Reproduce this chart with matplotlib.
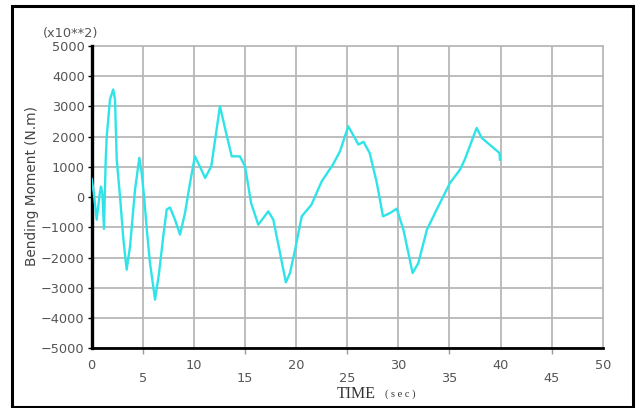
import matplotlib
matplotlib.use("Agg")
import matplotlib.pyplot as plt
from matplotlib.patches import Rectangle
from matplotlib.ticker import FixedLocator, FixedFormatter

# Bending moment time history (values in units of 10^2 N.m)
time_s = [0, 0.2, 0.49, 0.8, 0.91, 1.05, 1.2, 1.37, 1.47, 1.79, 2.1, 2.28,
          2.45, 2.77, 3.1, 3.42, 3.75, 4.24, 4.66, 4.89, 5.15, 5.4, 5.7, 6.2,
          6.59, 7.0, 7.34, 7.66, 8.15, 8.64, 9.13, 9.62, 10.1, 10.6, 11.1,
          11.7, 12.55, 13.1, 13.7, 14.5, 15.0, 15.6, 16.3, 17.28, 17.77, 18.4,
          19.0, 19.4, 19.9, 20.55, 21.5, 22.5, 23.6, 24.3, 25.1, 26.1, 26.6,
          27.2, 27.9, 28.5, 29.2, 29.85, 30.5, 31.4, 31.96, 32.8, 33.75, 35.06,
          36.04, 36.5, 37.67, 38.16, 39.9, 39.95]
moment = [600, 150, -745, 150, 350, 100, -1050, 1240, 2010, 3230, 3560, 3230,
          1240, 25, -1400, -2400, -1630, 250, 1300, 800, -80, -1100, -2170, -3390,
          -2510, -1300, -410, -340, -745, -1240, -525, 470, 1350, 1000, 635,
          1020, 3010, 2200, 1350, 1350, 1020, -200, -910, -470, -745, -1800,
          -2820, -2510, -1740, -635, -250, 520, 1075, 1520, 2345, 1740, 1830,
          1460, 470, -635, -525, -380, -1075, -2510, -2180, -1075, -415, 470,
          910, 1240, 2290, 1960, 1460, 1240]

x_major = [0, 10, 20, 30, 40, 50]
x_minor = [5, 15, 25, 35, 45]
y_ticks = [5000, 4000, 3000, 2000, 1000, 0, -1000, -2000, -3000, -4000, -5000]

W, H = 637, 408
fig = plt.figure(figsize=(W / 100, H / 100), dpi=100)
fig.patch.set_facecolor("white")

# outer frame
fig.add_artist(Rectangle((12 / W, 1.5 / H), 621 / W, 401 / H,
                         transform=fig.transFigure, fill=False,
                         edgecolor="black", linewidth=2.2))

ax = fig.add_axes([91.7 / W, 1 - 348.3 / H, 511 / W, 302.3 / H])
ax.plot(time_s, moment, color="#2fe4e8", linewidth=1.7, zorder=3,
        solid_joinstyle="round")

ax.set_xlim(0, 50)
ax.set_ylim(-5000, 5000)

tick_color = "#555555"
ax.set_yticks(y_ticks)
ax.set_yticklabels([f"{v}".replace("-", "\u2212") for v in y_ticks])
ax.tick_params(axis="y", length=3, width=1, color="black", pad=2,
               labelsize=9.3, labelcolor=tick_color)

ax.xaxis.set_major_locator(FixedLocator(x_major))
ax.xaxis.set_major_formatter(FixedFormatter([str(v) for v in x_major]))
ax.xaxis.set_minor_locator(FixedLocator(x_minor))
ax.xaxis.set_minor_formatter(FixedFormatter([str(v) for v in x_minor]))
ax.tick_params(axis="x", which="major", length=0, pad=8,
               labelsize=9.3, labelcolor=tick_color)
ax.tick_params(axis="x", which="minor", length=4, width=1, color="#999999",
               pad=13, labelsize=9.3, labelcolor=tick_color)

ax.grid(True, which="both", color="#b8b8b8", linewidth=1.3, zorder=0)
for gl in ax.get_xgridlines() + ax.get_ygridlines():
    gl.set_clip_on(False)
ax.set_axisbelow(True)

for side in ("top", "right"):
    ax.spines[side].set_visible(False)
ax.spines["left"].set_linewidth(2.4)
ax.spines["bottom"].set_linewidth(2.0)

fig.text(43 / W, 1 - 33 / H, "(x10**2)", fontsize=9.3, color=tick_color,
         ha="left", va="center")
fig.text(32 / W, 1 - 186 / H, "Bending Moment (N.m)", fontsize=9.8,
         color="#444444", rotation=90, ha="center", va="center")
fig.text(337 / W, 1 - 394 / H, "TIME", fontsize=11.5,
         family="Liberation Serif", color="#333333", ha="left", va="center")
fig.text(385 / W, 1 - 394 / H, "( s e c )", fontsize=7.5,
         family="Liberation Serif", color="#333333", ha="left", va="center")

fig.savefig("out.png", dpi=100, facecolor="white")
